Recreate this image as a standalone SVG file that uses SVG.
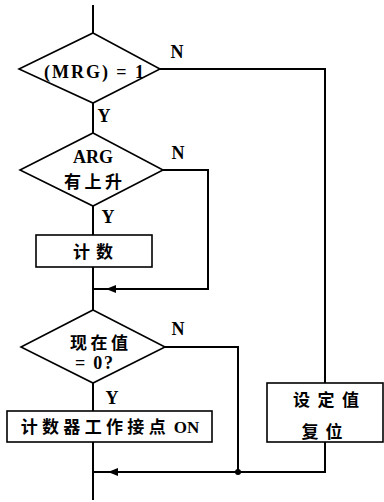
<svg xmlns="http://www.w3.org/2000/svg" width="384" height="502" viewBox="0 0 384 502">
<style>
.s{fill:#fff;stroke:#000;stroke-width:1.6}
.c{fill:none;stroke:#000;stroke-width:2}
.t{font-family:"Liberation Serif","Noto Sans CJK SC",serif;font-size:18px;font-weight:bold;fill:#000;text-anchor:middle}
.k{font-family:"Noto Sans CJK SC",sans-serif;font-size:17px;font-weight:bold;fill:#000;text-anchor:middle}
</style>
<defs>
<marker id="a" viewBox="0 0 10 10" refX="10" refY="5" markerWidth="5" markerHeight="5" orient="auto">
<path d="M0,1 L10,5 L0,9 Z" fill="#000"/>
</marker>
</defs>
<rect width="384" height="502" fill="#fff"/>
<g id="connectors">
<path class="c" d="M93,5 V33"/>
<path class="c" d="M93,103 V133"/>
<path class="c" d="M160,69 H325 V383"/>
<path class="c" d="M93,206 V235"/>
<path class="c" d="M93,267 V310"/>
<path class="c" d="M163,170 H208 V289 H106" marker-end="url(#a)"/>
<path class="c" d="M108,289 H93"/>
<path class="c" d="M93,383 V411"/>
<path class="c" d="M165,347 H238 V472"/>
<path class="c" d="M93,442 V500"/>
<path class="c" d="M325,442 V472 H108" marker-end="url(#a)"/>
<path class="c" d="M110,472 H93"/>
<circle cx="238" cy="472" r="3" fill="#000"/>
<text class="t" x="177" y="58">N</text>
<text class="t" x="104" y="122">Y</text>
<text class="t" x="178" y="159">N</text>
<text class="t" x="108" y="223">Y</text>
<text class="t" x="178" y="335">N</text>
<text class="t" x="112" y="404">Y</text>
</g>
<g id="d1">
<polygon class="s" points="93,33 160,69 93,103 19,69"/>
<text class="t" x="94" y="78" textLength="100">(MRG) = 1</text>
</g>
<g id="d2">
<polygon class="s" points="93,133 163,170 93,206 20,170"/>
<text class="t" x="93" y="163" font-size="17">ARG</text>
<text class="k" x="93" y="188" font-size="16" textLength="58">有上升</text>
</g>
<g id="b1">
<rect class="s" x="36" y="235" width="116" height="32"/>
<text class="k" x="93" y="258" textLength="40">计数</text>
</g>
<g id="d3">
<polygon class="s" points="93,310 165,347 93,383 21,347"/>
<text class="k" x="99" y="349" textLength="58">现在值</text>
<text class="t" x="94" y="369" textLength="38">= 0?</text>
</g>
<g id="b2">
<rect class="s" x="7" y="411" width="205" height="31"/>
<text class="k" x="110" y="433"><tspan textLength="145">计数器工作接点</tspan> <tspan font-family="Liberation Serif,serif">ON</tspan></text>
</g>
<g id="b3">
<rect class="s" x="267" y="383" width="116" height="59"/>
<text class="k" x="326" y="406" textLength="66">设定值</text>
<text class="k" x="322" y="438" textLength="41">复位</text>
</g>
</svg>
